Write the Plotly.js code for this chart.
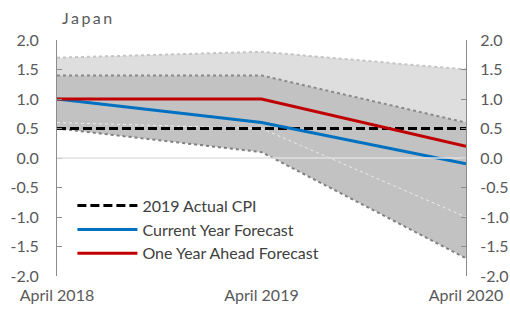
<!DOCTYPE html>
<html>
<head>
<meta charset="utf-8">
<script src="https://cdn.plot.ly/plotly-3.0.1.min.js"></script>
<style>
html,body{margin:0;padding:0;background:#fff;}
#chart{width:510px;height:312px;}
.gtitle{letter-spacing:2.5px;}
</style>
</head>
<body>
<div id="chart"></div>
<script>
// Data
const periods = ["April 2018", "April 2019", "April 2020"];
const outerUpper = [1.7, 1.8, 1.5];
const innerUpper = [1.4, 1.4, 0.6];
const innerLower = [0.5, 0.1, -1.7];
const outerLower = [0.6, 0.5, -1.0];
const actualCPI2019 = [0.5, 0.5, 0.5];
const currentYearForecast = [1.0, 0.6, -0.1];
const oneYearAheadForecast = [1.0, 1.0, 0.2];
const yTicks = [-2.0, -1.5, -1.0, -0.5, 0.0, 0.5, 1.0, 1.5, 2.0];
const yTickText = ["-2.0", "-1.5", "-1.0", "-0.5", "0.0", "0.5", "1.0", "1.5", "2.0"];

const traces = [
  {x: periods, y: outerUpper, type: 'scatter', mode: 'lines', showlegend: false, hoverinfo: 'skip',
   line: {color: '#c4c4c4', width: 2, dash: 'dot'}},
  {x: periods, y: innerUpper, type: 'scatter', mode: 'lines', showlegend: false, hoverinfo: 'skip',
   fill: 'tonexty', fillcolor: '#dedede', line: {color: '#8a8a8a', width: 2, dash: 'dot'}},
  {x: periods, y: innerLower, type: 'scatter', mode: 'lines', showlegend: false, hoverinfo: 'skip',
   fill: 'tonexty', fillcolor: '#c2c2c2', line: {color: '#808080', width: 2, dash: 'dot'}},
  {x: periods, y: outerLower, type: 'scatter', mode: 'lines', showlegend: false, hoverinfo: 'skip',
   line: {color: '#ececec', width: 1, dash: 'dot'}},
  {x: periods, y: actualCPI2019, type: 'scatter', mode: 'lines', name: '2019 Actual CPI',
   line: {color: '#000000', width: 3, dash: '9px,4px'}},
  {x: periods, y: currentYearForecast, type: 'scatter', mode: 'lines', name: 'Current Year Forecast',
   line: {color: '#0070C0', width: 3}},
  {x: periods, y: oneYearAheadForecast, type: 'scatter', mode: 'lines', name: 'One Year Ahead Forecast',
   line: {color: '#C00000', width: 3}},
  {x: periods, y: actualCPI2019, type: 'scatter', mode: 'lines', yaxis: 'y2', showlegend: false,
   hoverinfo: 'skip', line: {color: 'rgba(0,0,0,0)', width: 0}}
];

const tickFont = {family: 'Lato, "Open Sans", sans-serif', size: 16, color: '#595959'};

const layout = {
  width: 510, height: 312,
  margin: {l: 57, r: 44, t: 40, b: 36, pad: 0},
  paper_bgcolor: '#ffffff', plot_bgcolor: '#ffffff',
  showlegend: true,
  title: {text: 'Japan', font: {family: 'Lato, "Open Sans", sans-serif', size: 16, color: '#595959'},
          x: 62/510, xanchor: 'left', xref: 'container', y: 1 - 18/312, yanchor: 'middle', yref: 'container'},
  xaxis: {type: 'category', categoryorder: 'array', categoryarray: periods, range: [0, 2],
          showgrid: false, zeroline: false, showline: false, ticks: '', tickfont: tickFont,
          ticklabelstandoff: 8, fixedrange: true},
  yaxis: {range: [-2, 2], tickvals: yTicks, ticktext: yTickText, showgrid: false, zeroline: false,
          showline: true, linecolor: '#8c8c8c', linewidth: 1, ticks: 'inside', ticklen: 5,
          tickcolor: '#8c8c8c', tickfont: tickFont, ticklabelstandoff: 14},
  yaxis2: {range: [-2, 2], overlaying: 'y', side: 'right', tickvals: yTicks, ticktext: yTickText,
           showgrid: false, zeroline: false, showline: true, linecolor: '#8c8c8c', linewidth: 1,
           ticks: 'inside', ticklen: 5, tickcolor: '#8c8c8c', tickfont: tickFont, ticklabelstandoff: 10},
  shapes: [{type: 'line', xref: 'paper', x0: 0, x1: 1, yref: 'y', y0: 0, y1: 0, layer: 'above',
            line: {color: '#e0e0e0', width: 1.5}}],
  legend: {x: 0.111, y: 0.37, xanchor: 'left', yanchor: 'top', bgcolor: 'rgba(0,0,0,0)',
           traceorder: 'normal',
           font: {family: 'Lato, "Open Sans", sans-serif', size: 16, color: '#404040'},
           tracegroupgap: 0, itemwidth: 30}
};

Plotly.newPlot('chart', traces, layout, {staticPlot: true, displayModeBar: false}).then(function(gd){
  // lengthen legend line samples to match the reference style
  gd.querySelectorAll('.legend .scrollbox, .legend').forEach(function(el){
    el.removeAttribute('clip-path');
  });
  gd.querySelectorAll('.legend .legendlines path').forEach(function(p){
    p.setAttribute('d', 'M-25,0h60');
  });
});
</script>
</body>
</html>
